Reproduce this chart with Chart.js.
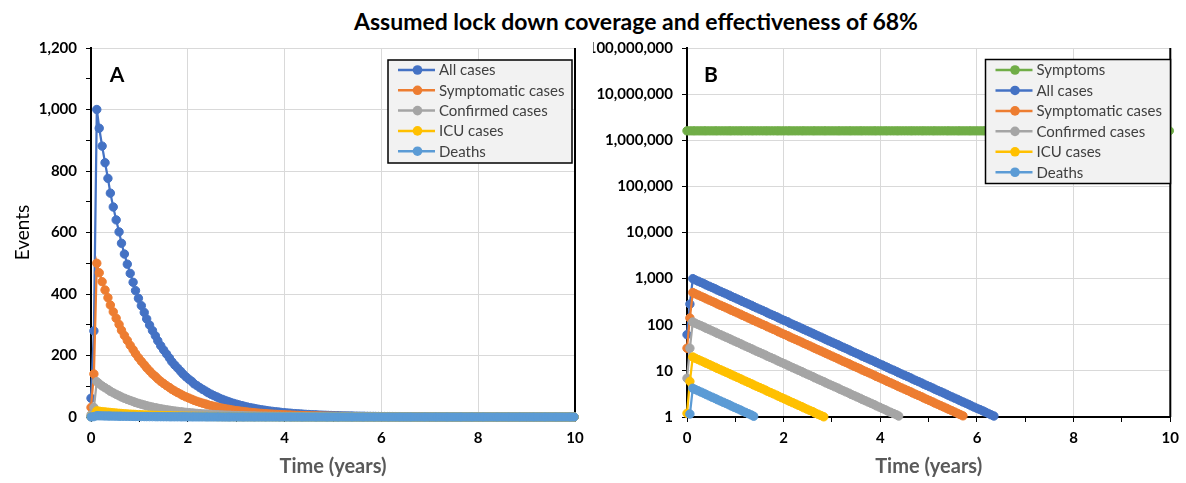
<!DOCTYPE html>
<html>
<head>
<meta charset="utf-8">
<script src="https://cdn.jsdelivr.net/npm/chart.js@4.4.1/dist/chart.umd.min.js"></script>
<style>
  body { margin: 0; background: #fff; width: 1186px; height: 483px; overflow: hidden; position: relative; font-family: Lato, sans-serif; }
  #title { position: absolute; left: 236px; width: 800px; top: 7px; line-height: 28px; text-align: center; font-weight: bold; font-size: 23px; color: #000; }
  .box { position: absolute; top: 0; width: 593px; height: 483px; }
</style>
</head>
<body>
<div id="title">Assumed lock down coverage and effectiveness of 68%</div>
<div class="box" style="left:0"><canvas id="chartA" width="593" height="483"></canvas></div>
<div class="box" style="left:593px"><canvas id="chartB" width="593" height="483"></canvas></div>
<script>
// time axis, one point every 3 weeks
const years = [
  0, 0.06, 0.12, 0.17, 0.23, 0.29, 0.35, 0.40, 0.46, 0.52,
  0.58, 0.63, 0.69, 0.75, 0.81, 0.87, 0.92, 0.98, 1.04, 1.10,
  1.15, 1.21, 1.27, 1.33, 1.38, 1.44, 1.50, 1.56, 1.62, 1.67,
  1.73, 1.79, 1.85, 1.90, 1.96, 2.02, 2.08, 2.13, 2.19, 2.25,
  2.31, 2.37, 2.42, 2.48, 2.54, 2.60, 2.65, 2.71, 2.77, 2.83,
  2.88, 2.94,
  3.00, 3.06, 3.12, 3.17, 3.23, 3.29, 3.35, 3.40, 3.46, 3.52,
  3.58, 3.63, 3.69, 3.75, 3.81, 3.87, 3.92, 3.98, 4.04, 4.10,
  4.15, 4.21, 4.27, 4.33, 4.38, 4.44, 4.50, 4.56, 4.62, 4.67,
  4.73, 4.79, 4.85, 4.90, 4.96, 5.02, 5.08, 5.13, 5.19, 5.25,
  5.31, 5.37, 5.42, 5.48, 5.54, 5.60, 5.65, 5.71, 5.77, 5.83,
  5.88, 5.94,
  6.00, 6.06, 6.12, 6.17, 6.23, 6.29, 6.35, 6.40, 6.46, 6.52,
  6.58, 6.63, 6.69, 6.75, 6.81, 6.87, 6.92, 6.98, 7.04, 7.10,
  7.15, 7.21, 7.27, 7.33, 7.38, 7.44, 7.50, 7.56, 7.62, 7.67,
  7.73, 7.79, 7.85, 7.90, 7.96, 8.02, 8.08, 8.13, 8.19, 8.25,
  8.31, 8.37, 8.42, 8.48, 8.54, 8.60, 8.65, 8.71, 8.77, 8.83,
  8.88, 8.94,
  9.00, 9.06, 9.12, 9.17, 9.23, 9.29, 9.35, 9.40, 9.46, 9.52,
  9.58, 9.63, 9.69, 9.75, 9.81, 9.87, 9.92, 9.98
];

const allCases = [
  61, 280,
  1000, 939, 881, 827, 776, 728, 683, 641, 602, 565,
  530, 497, 467, 438, 411, 386, 362, 340, 319, 299,
  281, 264, 248, 232, 218, 205, 192, 180, 169, 159,
  149, 140, 131, 123, 116, 108, 102, 95.5, 89.7, 84.1,
  79.0, 74.1, 69.5, 65.3, 61.3, 57.5, 54.0, 50.6, 47.5, 44.6,
  41.9, 39.3, 36.9, 34.6, 32.5, 30.5, 28.6, 26.8, 25.2, 23.6,
  22.2, 20.8, 19.5, 18.3, 17.2, 16.2, 15.2, 14.2, 13.4, 12.5,
  11.8, 11.0, 10.4, 9.72, 9.12, 8.56, 8.04, 7.54, 7.08, 6.64,
  6.23, 5.85, 5.49, 5.15, 4.84, 4.54, 4.26, 4.00, 3.75, 3.52,
  3.31, 3.10, 2.91, 2.73, 2.56, 2.41, 2.26, 2.12, 1.99, 1.87,
  1.75, 1.64, 1.54, 1.45, 1.36, 1.28, 1.20, 1.12, 1.05, 0.99,
  0.9, 0.9, 0.8, 0.8, 0.7, 0.7, 0.6, 0.6, 0.6, 0.5,
  0.5, 0.5, 0.4, 0.4, 0.4, 0.4, 0.3, 0.3, 0.3, 0.3,
  0.3, 0.2, 0.2, 0.2, 0.2, 0.2, 0.2, 0.2, 0.2, 0.1,
  0.1, 0.1, 0.1, 0.1, 0.1, 0.1, 0.1, 0.1, 0.1, 0.1,
  0.1, 0.1, 0.1, 0.1, 0.1, 0.1, 0, 0, 0, 0,
  0, 0, 0, 0, 0, 0, 0, 0, 0, 0,
  0, 0
];

const symptomatic = [
  31, 140,
  500, 469, 440, 413, 388, 364, 342, 321, 301, 282,
  265, 249, 233, 219, 206, 193, 181, 170, 160, 150,
  140, 132, 124, 116, 109, 102, 96.0, 90.1, 84.6, 79.4,
  74.5, 69.9, 65.6, 61.6, 57.8, 54.2, 50.9, 47.8, 44.8, 42.1,
  39.5, 37.1, 34.8, 32.6, 30.6, 28.7, 27.0, 25.3, 23.8, 22.3,
  20.9, 19.6, 18.4, 17.3, 16.2, 15.2, 14.3, 13.4, 12.6, 11.8,
  11.1, 10.4, 9.77, 9.17, 8.61, 8.08, 7.58, 7.12, 6.68, 6.27,
  5.88, 5.52, 5.18, 4.86, 4.56, 4.28, 4.02, 3.77, 3.54, 3.32,
  3.12, 2.93, 2.75, 2.58, 2.42, 2.27, 2.13, 2.00, 1.88, 1.76,
  1.65, 1.55, 1.46, 1.37, 1.28, 1.20, 1.13, 1.06, 0.99, 0.94,
  0.9, 0.8, 0.8, 0.7, 0.7, 0.6, 0.6, 0.6, 0.5, 0.5,
  0.5, 0.4, 0.4, 0.4, 0.4, 0.3, 0.3, 0.3, 0.3, 0.3,
  0.2, 0.2, 0.2, 0.2, 0.2, 0.2, 0.2, 0.2, 0.2, 0.1,
  0.1, 0.1, 0.1, 0.1, 0.1, 0.1, 0.1, 0.1, 0.1, 0.1,
  0.1, 0.1, 0.1, 0.1, 0.1, 0, 0, 0, 0, 0,
  0, 0, 0, 0, 0, 0, 0, 0, 0, 0,
  0, 0, 0, 0, 0, 0, 0, 0, 0, 0,
  0, 0
];

const confirmed = [
  6.9, 31,
  115, 108, 101, 95.1, 89.2, 83.7, 78.6, 73.7, 69.2, 65.0,
  61.0, 57.2, 53.7, 50.4, 47.3, 44.4, 41.7, 39.1, 36.7, 34.4,
  32.3, 30.3, 28.5, 26.7, 25.1, 23.5, 22.1, 20.7, 19.5, 18.3,
  17.1, 16.1, 15.1, 14.2, 13.3, 12.5, 11.7, 11.0, 10.3, 9.68,
  9.08, 8.52, 8.00, 7.51, 7.04, 6.61, 6.20, 5.82, 5.47, 5.13,
  4.81, 4.51, 4.24, 3.98, 3.73, 3.50, 3.29, 3.08, 2.90, 2.72,
  2.55, 2.39, 2.25, 2.11, 1.98, 1.86, 1.74, 1.64, 1.53, 1.44,
  1.35, 1.27, 1.19, 1.12, 1.05, 0.99, 0.92, 0.87, 0.81, 0.76,
  0.7, 0.7, 0.6, 0.6, 0.6, 0.5, 0.5, 0.5, 0.4, 0.4,
  0.4, 0.4, 0.3, 0.3, 0.3, 0.3, 0.3, 0.2, 0.2, 0.2,
  0.2, 0.2, 0.2, 0.2, 0.2, 0.1, 0.1, 0.1, 0.1, 0.1,
  0.1, 0.1, 0.1, 0.1, 0.1, 0.1, 0.1, 0.1, 0.1, 0.1,
  0.1, 0.1, 0.1, 0, 0, 0, 0, 0, 0, 0,
  0, 0, 0, 0, 0, 0, 0, 0, 0, 0,
  0, 0, 0, 0, 0, 0, 0, 0, 0, 0,
  0, 0, 0, 0, 0, 0, 0, 0, 0, 0,
  0, 0, 0, 0, 0, 0, 0, 0, 0, 0,
  0, 0
];

const icuCases = [
  1.2, 5.9,
  20.0, 18.8, 17.6, 16.5, 15.5, 14.6, 13.7, 12.8, 12.0, 11.3,
  10.6, 9.95, 9.34, 8.76, 8.22, 7.72, 7.24, 6.80, 6.38, 5.99,
  5.62, 5.27, 4.95, 4.65, 4.36, 4.09, 3.84, 3.60, 3.38, 3.17,
  2.98, 2.80, 2.62, 2.46, 2.31, 2.17, 2.04, 1.91, 1.79, 1.68,
  1.58, 1.48, 1.39, 1.31, 1.22, 1.15, 1.08, 1.01, 0.95, 0.89,
  0.8, 0.8, 0.7, 0.7, 0.6, 0.6, 0.6, 0.5, 0.5, 0.5,
  0.4, 0.4, 0.4, 0.4, 0.3, 0.3, 0.3, 0.3, 0.3, 0.3,
  0.2, 0.2, 0.2, 0.2, 0.2, 0.2, 0.2, 0.2, 0.1, 0.1,
  0.1, 0.1, 0.1, 0.1, 0.1, 0.1, 0.1, 0.1, 0.1, 0.1,
  0.1, 0.1, 0.1, 0.1, 0, 0, 0, 0, 0, 0,
  0, 0, 0, 0, 0, 0, 0, 0, 0, 0,
  0, 0, 0, 0, 0, 0, 0, 0, 0, 0,
  0, 0, 0, 0, 0, 0, 0, 0, 0, 0,
  0, 0, 0, 0, 0, 0, 0, 0, 0, 0,
  0, 0, 0, 0, 0, 0, 0, 0, 0, 0,
  0, 0, 0, 0, 0, 0, 0, 0, 0, 0,
  0, 0, 0, 0, 0, 0, 0, 0, 0, 0,
  0, 0
];

const deaths = [
  0.2, 1.16,
  4.20, 3.94, 3.70, 3.47, 3.26, 3.06, 2.87, 2.69, 2.53, 2.37,
  2.23, 2.09, 1.96, 1.84, 1.73, 1.62, 1.52, 1.43, 1.34, 1.26,
  1.18, 1.11, 1.04, 0.98, 0.92, 0.86, 0.81, 0.76, 0.71, 0.67,
  0.6, 0.6, 0.6, 0.5, 0.5, 0.5, 0.4, 0.4, 0.4, 0.4,
  0.3, 0.3, 0.3, 0.3, 0.3, 0.2, 0.2, 0.2, 0.2, 0.2,
  0.2, 0.2, 0.2, 0.1, 0.1, 0.1, 0.1, 0.1, 0.1, 0.1,
  0.1, 0.1, 0.1, 0.1, 0.1, 0.1, 0.1, 0.1, 0.1, 0.1,
  0, 0, 0, 0, 0, 0, 0, 0, 0, 0,
  0, 0, 0, 0, 0, 0, 0, 0, 0, 0,
  0, 0, 0, 0, 0, 0, 0, 0, 0, 0,
  0, 0, 0, 0, 0, 0, 0, 0, 0, 0,
  0, 0, 0, 0, 0, 0, 0, 0, 0, 0,
  0, 0, 0, 0, 0, 0, 0, 0, 0, 0,
  0, 0, 0, 0, 0, 0, 0, 0, 0, 0,
  0, 0, 0, 0, 0, 0, 0, 0, 0, 0,
  0, 0, 0, 0, 0, 0, 0, 0, 0, 0,
  0, 0, 0, 0, 0, 0, 0, 0, 0, 0,
  0, 0
];

const symptoms = [
  1600000, 1600000, 1600000, 1600000, 1600000, 1600000, 1600000, 1600000, 1600000, 1600000,
  1600000, 1600000, 1600000, 1600000, 1600000, 1600000, 1600000, 1600000, 1600000, 1600000,
  1600000, 1600000, 1600000, 1600000, 1600000, 1600000, 1600000, 1600000, 1600000, 1600000,
  1600000, 1600000, 1600000, 1600000, 1600000, 1600000, 1600000, 1600000, 1600000, 1600000,
  1600000, 1600000, 1600000, 1600000, 1600000, 1600000, 1600000, 1600000, 1600000, 1600000,
  1600000, 1600000, 1600000, 1600000, 1600000, 1600000, 1600000, 1600000, 1600000, 1600000,
  1600000, 1600000, 1600000, 1600000, 1600000, 1600000, 1600000, 1600000, 1600000, 1600000,
  1600000, 1600000, 1600000, 1600000, 1600000, 1600000, 1600000, 1600000, 1600000, 1600000,
  1600000, 1600000, 1600000, 1600000, 1600000, 1600000, 1600000, 1600000, 1600000, 1600000,
  1600000, 1600000, 1600000, 1600000, 1600000, 1600000, 1600000, 1600000, 1600000, 1600000,
  1600000, 1600000, 1600000, 1600000, 1600000, 1600000, 1600000, 1600000, 1600000, 1600000,
  1600000, 1600000, 1600000, 1600000, 1600000, 1600000, 1600000, 1600000, 1600000, 1600000,
  1600000, 1600000, 1600000, 1600000, 1600000, 1600000, 1600000, 1600000, 1600000, 1600000,
  1600000, 1600000, 1600000, 1600000, 1600000, 1600000, 1600000, 1600000, 1600000, 1600000,
  1600000, 1600000, 1600000, 1600000, 1600000, 1600000, 1600000, 1600000, 1600000, 1600000,
  1600000, 1600000, 1600000, 1600000, 1600000, 1600000, 1600000, 1600000, 1600000, 1600000,
  1600000, 1600000, 1600000, 1600000, 1600000, 1600000, 1600000, 1600000, 1600000, 1600000,
  1600000, 1600000, 1600000, 1600000
];

const logTicks = [1, 10, 100, 1000, 10000, 100000, 1000000, 10000000, 100000000];

const BLUE = '#4472C4', ORANGE = '#ED7D31', GREY = '#A5A5A5', GOLD = '#FFC000', LIGHTBLUE = '#5B9BD5', GREEN = '#70AD47';
const FONT = 'Lato, "Open Sans", sans-serif';

// one line+marker series; on the log chart values under 1 are left out
function series(label, values, color, order, logScale) {
  return {
    label: label,
    data: values.map((v, i) => ({ x: years[i], y: logScale ? (v >= 1 ? v : null) : v })),
    borderColor: color,
    backgroundColor: color,
    pointBackgroundColor: color,
    pointBorderColor: color,
    pointRadius: 4.2,
    pointHoverRadius: 4.2,
    pointBorderWidth: 1,
    borderWidth: 2.25,
    order: order,
    clip: false
  };
}

function xAxis() {
  return {
    type: 'linear', min: 0, max: 10,
    afterFit: s => { s.height = 66; },
    border: { color: '#000', width: 2 },
    grid: {
      color: c => (c.tick && c.tick.value % 2 === 0) ? '#D9D9D9' : 'rgba(0,0,0,0)',
      tickColor: '#000', tickLength: 5, lineWidth: 1
    },
    ticks: {
      stepSize: 1, autoSkip: false, maxRotation: 0, padding: 7, color: '#000',
      font: { family: FONT, size: 15, weight: 'bold' },
      callback: v => v % 2 === 0 ? String(v) : ''
    },
    title: {
      display: true, text: 'Time (years)', color: '#595959',
      font: { family: FONT, size: 20, weight: 'bold' },
      padding: { top: 0, bottom: 4 }
    }
  };
}

// legend box, panel letter and right frame line
const extras = {
  id: 'extras',
  beforeDatasetsDraw(chart) {
    const ctx = chart.ctx, a = chart.chartArea;
    ctx.save();
    ctx.strokeStyle = '#000';
    ctx.lineWidth = 2;
    ctx.beginPath();
    ctx.moveTo(a.right, a.top);
    ctx.lineTo(a.right, a.bottom);
    ctx.stroke();
    ctx.restore();
  },
  afterDraw(chart, args, opts) {
    const ctx = chart.ctx;
    ctx.save();
    ctx.font = 'bold 21px ' + FONT;
    ctx.fillStyle = '#000';
    ctx.textAlign = 'center';
    ctx.textBaseline = 'middle';
    ctx.fillText(opts.letter, opts.letterX, opts.letterY);

    const L = opts.legend;
    ctx.fillStyle = '#F2F2F2';
    ctx.fillRect(L.x, L.y, L.w, L.h);
    ctx.strokeStyle = '#000';
    ctx.lineWidth = 1.5;
    ctx.strokeRect(L.x, L.y, L.w, L.h);
    ctx.font = '15px ' + FONT;
    ctx.textAlign = 'left';
    chart.data.datasets.forEach((ds, i) => {
      const y = L.y + L.first + i * L.step;
      ctx.strokeStyle = ds.borderColor;
      ctx.lineWidth = 2.5;
      ctx.beginPath();
      ctx.moveTo(L.x + 10, y);
      ctx.lineTo(L.x + 47, y);
      ctx.stroke();
      ctx.fillStyle = ds.borderColor;
      ctx.beginPath();
      ctx.arc(L.x + 29.5, y, 4.8, 0, Math.PI * 2);
      ctx.fill();
      ctx.fillStyle = '#404040';
      ctx.fillText(ds.label, L.x + 51, y + 0.5);
    });
    ctx.restore();
  }
};

Chart.defaults.font.family = FONT;

new Chart(document.getElementById('chartA'), {
  type: 'line',
  data: {
    datasets: [
      series('All cases', allCases, BLUE, 5, false),
      series('Symptomatic cases', symptomatic, ORANGE, 4, false),
      series('Confirmed cases', confirmed, GREY, 3, false),
      series('ICU cases', icuCases, GOLD, 2, false),
      series('Deaths', deaths, LIGHTBLUE, 1, false)
    ]
  },
  options: {
    responsive: false,
    animation: false,
    layout: { padding: { top: 48, right: 18, left: 0, bottom: 0 } },
    scales: {
      x: xAxis(),
      y: {
        min: 0, max: 1200,
        afterFit: s => { s.width = 91; },
        border: { color: '#000', width: 2 },
        grid: {
          color: c => (c.tick && c.tick.value % 200 === 0) ? '#D9D9D9' : 'rgba(0,0,0,0)',
          tickColor: '#000', tickLength: 5, lineWidth: 1
        },
        ticks: {
          stepSize: 100, padding: 9, color: '#000',
          font: { family: FONT, size: 15, weight: 'bold' },
          callback: v => v % 200 === 0 ? v.toLocaleString('en-US') : ''
        },
        title: {
          display: true, text: 'Events', color: '#000',
          font: { family: FONT, size: 19 },
          padding: { top: 11, bottom: 0 }
        }
      }
    },
    plugins: {
      legend: { display: false },
      tooltip: { enabled: false },
      extras: {
        letter: 'A', letterX: 117, letterY: 75,
        legend: { x: 388, y: 60, w: 184, h: 103, first: 10, step: 20.3 }
      }
    }
  },
  plugins: [extras]
});

new Chart(document.getElementById('chartB'), {
  type: 'line',
  data: {
    datasets: [
      series('Symptoms', symptoms, GREEN, 6, true),
      series('All cases', allCases, BLUE, 5, true),
      series('Symptomatic cases', symptomatic, ORANGE, 4, true),
      series('Confirmed cases', confirmed, GREY, 3, true),
      series('ICU cases', icuCases, GOLD, 2, true),
      series('Deaths', deaths, LIGHTBLUE, 1, true)
    ]
  },
  options: {
    responsive: false,
    animation: false,
    layout: { padding: { top: 48, right: 15, left: 0, bottom: 0 } },
    scales: {
      x: xAxis(),
      y: {
        type: 'logarithmic', min: 1, max: 100000000,
        afterFit: s => { s.width = 94; },
        afterBuildTicks: s => { s.ticks = logTicks.map(v => ({ value: v })); },
        border: { color: '#000', width: 2 },
        grid: { color: '#D9D9D9', tickColor: '#000', tickLength: 5, lineWidth: 1 },
        ticks: {
          padding: 9, color: '#000',
          font: { family: FONT, size: 15, weight: 'bold' },
          callback: v => Number(v).toLocaleString('en-US')
        }
      }
    },
    plugins: {
      legend: { display: false },
      tooltip: { enabled: false },
      extras: {
        letter: 'B', letterX: 118, letterY: 75,
        legend: { x: 392.5, y: 59.5, w: 185, h: 124, first: 10.5, step: 20.45 }
      }
    }
  },
  plugins: [extras]
});
</script>
</body>
</html>
